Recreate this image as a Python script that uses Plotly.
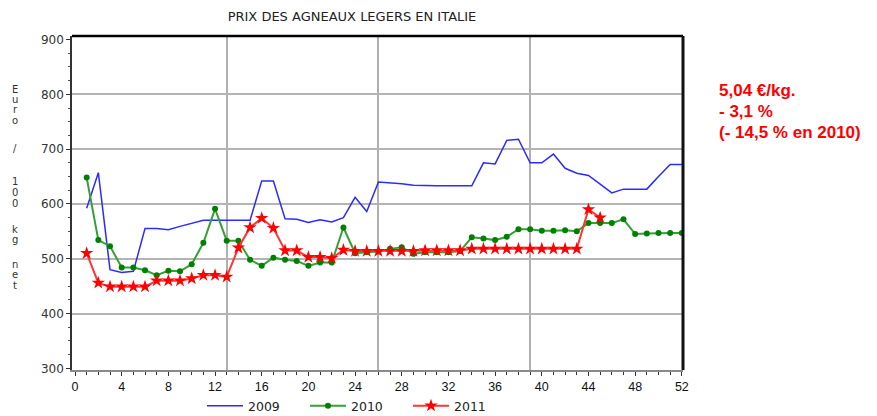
import plotly.graph_objects as go

# ---- data ----
weeks_2009 = list(range(1, 53))
prix_2009 = [592, 657, 480, 475, 477, 555, 555, 553, 559, 564,
             570, 570, 570, 570, 570, 642, 642, 573, 572, 566,
             571, 567, 575, 612, 586, 640, 639, 637, 634, 633,
             633, 633, 633, 633, 675, 673, 716, 718, 675, 675,
             691, 665, 656, 652, 636, 620, 627, 627, 627, 650,
             672, 672]

weeks_2010 = list(range(1, 53))
prix_2010 = [648, 534, 523, 484, 484, 479, 470, 478, 477, 490,
             529, 591, 533, 533, 498, 487, 502, 498, 496, 487,
             493, 493, 557, 510, 512, 513, 518, 521, 509, 512,
             512, 512, 514, 539, 537, 534, 540, 554, 554, 551,
             551, 552, 550, 565, 565, 565, 572, 545, 546, 547,
             547, 547]

weeks_2011 = list(range(1, 46))
prix_2011 = [510, 456, 449, 449, 449, 449, 460, 460, 460, 464,
             470, 470, 467, 520, 557, 574, 556, 515, 515, 503,
             503, 501, 516, 514, 514, 514, 514, 514, 514, 515,
             515, 515, 515, 518, 518, 518, 518, 518, 518, 518,
             518, 518, 518, 590, 575]

x_ticks = list(range(0, 53, 4))
y_ticks = list(range(300, 901, 100))
x_grid = [13, 26, 39]
y_grid = [400, 500, 600, 700, 800]

title_text = "PRIX DES AGNEAUX LEGERS EN ITALIE"
side_lines = ["5,04 €/kg.", "- 3,1 %", "(- 14,5 % en 2010)"]
ylabel_chars = ["E", "u", "r", "o", "/", "1", "0", "0", "k", "g", "n", "e", "t"]

# ---- layout geometry (reference pixels; page body has an 8px offset) ----
OFF = 8
W, H = 877 - OFF, 416 - OFF
PL, PR, PT, PB = 72, 683, 36, 370          # plot area in reference pixels
L, R, T, B = PL - OFF, 877 - PR, PT - OFF, 416 - PB
PW, PH = PR - PL, PB - PT
XR = [-0.257, 52.1]
YR = [297, 906.4]


def px_x(p):
    return (p - PL) / PW


def px_y(p):
    return (PB - p) / PH


fig = go.Figure()
fig.add_trace(go.Scatter(x=weeks_2009, y=prix_2009, mode="lines", name="2009",
                         line=dict(color="#2b2bff", width=1.5)))
fig.add_trace(go.Scatter(x=weeks_2010, y=prix_2010, mode="lines+markers", name="2010",
                         line=dict(color="#35a035", width=2),
                         marker=dict(symbol="circle", size=6, color="#008000")))
fig.add_trace(go.Scatter(x=weeks_2011, y=prix_2011, mode="lines+markers", name="2011",
                         line=dict(color="#ff3535", width=2),
                         marker=dict(symbol="star", size=10, color="#ff0000")))
# helper trace for the grid overlay axes
fig.add_trace(go.Scatter(x=[], y=[], xaxis="x2", yaxis="y2", showlegend=False,
                         hoverinfo="skip"))

annotations = []
ylabel_pos = [89, 99.5, 110, 120, 148.3, 181.7, 192.5, 203.3, 229, 240, 264, 274.5, 285]
for ch, yp in zip(ylabel_chars, ylabel_pos):
    annotations.append(dict(text=ch, xref="paper", yref="paper", x=px_x(15), y=px_y(yp),
                            xanchor="center", yanchor="middle", showarrow=False,
                            font=dict(family="DejaVu Sans", size=10, color="#333")))
for txt, yp in zip(side_lines, [90, 111.3, 132]):
    annotations.append(dict(text="<b>" + txt + "</b>", xref="paper", yref="paper",
                            x=px_x(717), y=px_y(yp), xanchor="left", yanchor="middle",
                            showarrow=False,
                            font=dict(family="Liberation Sans", size=17, color="#ff0000")))

fig.update_layout(
    width=W, height=H,
    margin=dict(l=L, r=R, t=T, b=B, autoexpand=False),
    paper_bgcolor="white", plot_bgcolor="white",
    title=dict(text=title_text, x=(352 - OFF) / W, xanchor="center",
               y=1 - (16 - OFF) / H, yanchor="middle",
               font=dict(family="DejaVu Sans", size=13, color="#222")),
    xaxis=dict(range=XR, tickmode="array", tickvals=x_ticks, ticks="outside", ticklen=4,
               tickcolor="#333", tickwidth=1,
               minor=dict(dtick=1, tick0=0, ticks="outside", ticklen=2.5, tickcolor="#333",
                          showgrid=False),
               showline=True, linecolor="#8a8a8a", linewidth=2, showgrid=False, zeroline=False,
               tickfont=dict(family="Liberation Sans", size=12.5, color="#111")),
    xaxis2=dict(range=XR, overlaying="x", anchor="y2", tickmode="array", tickvals=x_grid,
                showgrid=True, gridcolor="#b0b0b0", gridwidth=2, showticklabels=False,
                ticks="", showline=False, zeroline=False),
    yaxis=dict(range=YR, tickmode="array", tickvals=y_ticks, ticks="outside", ticklen=4,
               tickcolor="#333",
               minor=dict(dtick=25, tick0=300, ticks="outside", ticklen=2, tickcolor="#555",
                          showgrid=False),
               showline=True, linecolor="#333", linewidth=1.5, showgrid=False, zeroline=False,
               tickfont=dict(family="DejaVu Sans", size=12, color="#333")),
    yaxis2=dict(range=YR, overlaying="y", anchor="x2", tickmode="array", tickvals=y_grid,
                showgrid=True, gridcolor="#b4b4b4", gridwidth=2, showticklabels=False,
                ticks="", showline=False, zeroline=False),
    legend=dict(orientation="h", x=px_x(202), xanchor="left", y=px_y(406), yanchor="middle",
                font=dict(family="DejaVu Sans", size=12.5, color="#222"),
                bgcolor="rgba(0,0,0,0)", itemwidth=36,
                entrywidth=52, entrywidthmode="pixels"),
    annotations=annotations,
    shapes=[
        dict(type="line", xref="paper", yref="paper", x0=0, x1=1, y0=1, y1=1,
             line=dict(color="black", width=2.5)),
        dict(type="line", xref="paper", yref="paper", x0=1, x1=1, y0=0, y1=1,
             line=dict(color="#111", width=3)),
    ],
    showlegend=True,
)

fig.write_html("out.html")
